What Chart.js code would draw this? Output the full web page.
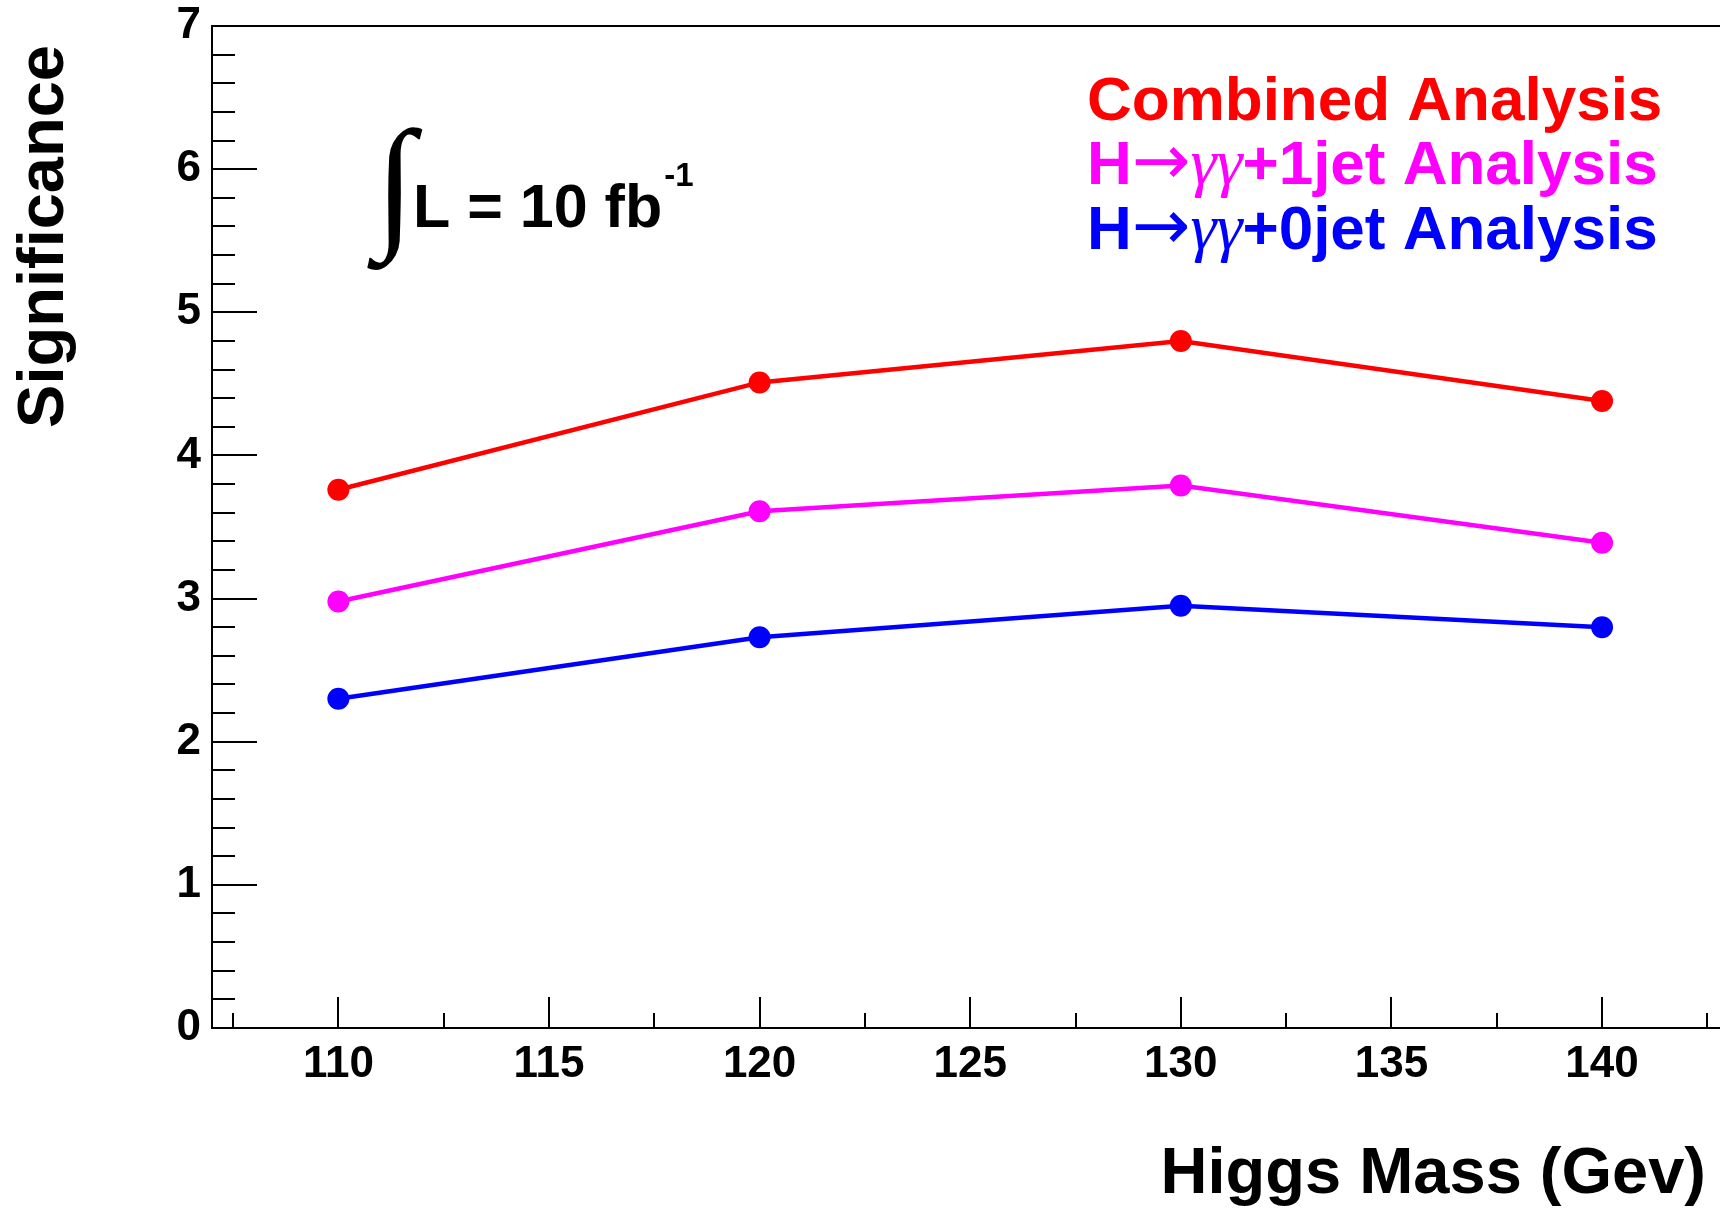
<!DOCTYPE html>
<html>
<head>
<meta charset="utf-8">
<script src="https://cdn.jsdelivr.net/npm/chart.js@4.4.1/dist/chart.umd.min.js"></script>
<style>
  html, body { margin: 0; padding: 0; background: #fff; }
  #wrap { width: 1720px; height: 1209px; position: relative; }
</style>
</head>
<body>
<div id="wrap"><canvas id="c" width="1720" height="1209"></canvas></div>
<script>
// ---- data ----
const higgsMass = [110, 120, 130, 140];
const combinedSig = [3.76, 4.51, 4.80, 4.38];
const oneJetSig = [2.98, 3.61, 3.79, 3.39];
const zeroJetSig = [2.30, 2.73, 2.95, 2.80];
const seriesLabels = ['Combined Analysis', 'H\u2192\u03b3\u03b3+1jet Analysis', 'H\u2192\u03b3\u03b3+0jet Analysis'];
const seriesColors = ['#ff0000', '#ff00ff', '#0000ff'];
const xTickValues = [110, 115, 120, 125, 130, 135, 140];
const xMinorValues = [107.5, 112.5, 117.5, 122.5, 127.5, 132.5, 137.5, 142.5];
const yTickValues = [0, 1, 2, 3, 4, 5, 6, 7];
const xTitle = 'Higgs Mass (Gev)';
const yTitle = 'Significance';
const lumiText = 'L = 10 fb';
const lumiSup = '-1';

const FONT = '"Liberation Sans", Arial, Helvetica, sans-serif';

function pts(ys) { return higgsMass.map((x, i) => ({ x: x, y: ys[i] })); }

const seriesValues = [combinedSig, oneJetSig, zeroJetSig];
const datasets = seriesValues.map((vals, i) => ({
  label: seriesLabels[i],
  data: pts(vals),
  borderColor: seriesColors[i],
  backgroundColor: seriesColors[i],
  pointBackgroundColor: seriesColors[i],
  pointBorderColor: seriesColors[i],
  pointBorderWidth: 0,
  pointRadius: 11,
  borderWidth: 4.5,
  tension: 0,
  fill: false
}));

// draw a label char-by-char choosing a font for symbols
function drawRich(ctx, text, x, y) {
  let cx = x;
  for (const ch of text) {
    if (ch === '\u2192') ctx.font = '70px "DejaVu Sans", sans-serif';
    else if (ch === '\u03b3') ctx.font = 'italic 66px "Liberation Serif", "DejaVu Serif", serif';
    else ctx.font = 'bold 62px ' + FONT;
    ctx.fillText(ch, cx, y);
    cx += ctx.measureText(ch).width;
  }
}

const decorPlugin = {
  id: 'decor',
  afterDraw(chart) {
    const ctx = chart.ctx;
    const a = chart.chartArea;
    const xs = chart.scales.x, ys = chart.scales.y;
    ctx.save();
    ctx.strokeStyle = '#000';
    ctx.lineWidth = 2;
    ctx.lineCap = 'butt';
    // frame lines (left, bottom, top)
    ctx.beginPath();
    ctx.moveTo(a.left, a.top); ctx.lineTo(a.left, a.bottom);
    ctx.moveTo(a.left - 1, a.bottom); ctx.lineTo(a.right, a.bottom);
    ctx.moveTo(a.left - 1, a.top); ctx.lineTo(a.right, a.top);
    ctx.stroke();
    // y ticks (inward)
    ctx.beginPath();
    yTickValues.forEach((v, i) => {
      const py = Math.round(ys.getPixelForValue(v));
      ctx.moveTo(a.left, py); ctx.lineTo(a.left + 45, py);
      if (i < yTickValues.length - 1) {
        for (let k = 1; k < 5; k++) {
          const my = Math.round(ys.getPixelForValue(v + k * (yTickValues[i + 1] - v) / 5));
          ctx.moveTo(a.left, my); ctx.lineTo(a.left + 23, my);
        }
      }
    });
    // x ticks (inward)
    xTickValues.forEach(v => {
      const px = Math.round(xs.getPixelForValue(v));
      ctx.moveTo(px, a.bottom); ctx.lineTo(px, a.bottom - 31);
    });
    xMinorValues.forEach(v => {
      const px = Math.round(xs.getPixelForValue(v));
      ctx.moveTo(px, a.bottom); ctx.lineTo(px, a.bottom - 15);
    });
    ctx.stroke();

    ctx.fillStyle = '#000';
    // axis titles
    ctx.font = 'bold 65px ' + FONT;
    ctx.textAlign = 'right';
    ctx.textBaseline = 'alphabetic';
    ctx.fillText(xTitle, 1706, 1193);
    ctx.save();
    ctx.translate(63, 45);
    ctx.rotate(-Math.PI / 2);
    ctx.fillText(yTitle, 0, 0);
    ctx.restore();

    // luminosity text with integral sign
    ctx.textAlign = 'left';
    const intFont = '"Liberation Serif", "DejaVu Serif", serif';
    ctx.font = '100px ' + intFont;
    const m = ctx.measureText('\u222b');
    const h100 = m.actualBoundingBoxAscent + m.actualBoundingBoxDescent;
    const fs = 100 * 144 / h100;
    ctx.font = fs + 'px ' + intFont;
    const m2 = ctx.measureText('\u222b');
    ctx.fillText('\u222b', 367 + m2.actualBoundingBoxLeft, 127 + m2.actualBoundingBoxAscent);
    ctx.font = 'bold 61px ' + FONT;
    ctx.fillText(lumiText, 413, 227);
    const w = ctx.measureText(lumiText).width;
    ctx.font = 'bold 33px ' + FONT;
    ctx.fillText(lumiSup, 413 + w + 2, 186);

    // legend texts
    const baselines = [120, 184, 249];
    chart.data.datasets.forEach((ds, i) => {
      ctx.fillStyle = ds.borderColor;
      drawRich(ctx, ds.label, 1087, baselines[i]);
    });
    ctx.restore();
  }
};

new Chart(document.getElementById('c'), {
  type: 'line',
  data: { datasets: datasets },
  options: {
    responsive: false,
    animation: false,
    events: [],
    layout: { autoPadding: false, padding: { top: 26, right: 0, left: 0, bottom: 0 } },
    plugins: { legend: { display: false }, tooltip: { enabled: false } },
    scales: {
      x: {
        type: 'linear',
        min: 107,
        max: 142.8,
        afterBuildTicks: s => { s.ticks = xTickValues.map(v => ({ value: v })); },
        afterFit: s => { s.height = 181; s.paddingLeft = 0; s.paddingRight = 0; },
        grid: { display: false, drawTicks: false },
        border: { display: false },
        ticks: {
          autoSkip: false, maxRotation: 0, minRotation: 0,
          color: '#000', padding: 10,
          font: { family: FONT, weight: 'bold', size: 44 },
          callback: v => String(v)
        }
      },
      y: {
        type: 'linear',
        min: 0,
        max: 7,
        afterBuildTicks: s => { s.ticks = yTickValues.map(v => ({ value: v })); },
        afterFit: s => { s.width = 212; s.paddingTop = 0; s.paddingBottom = 0; },
        grid: { display: false, drawTicks: false },
        border: { display: false },
        ticks: {
          color: '#000', padding: 11,
          font: { family: FONT, weight: 'bold', size: 44 },
          callback: v => String(v)
        }
      }
    }
  },
  plugins: [decorPlugin]
});
</script>
</body>
</html>
